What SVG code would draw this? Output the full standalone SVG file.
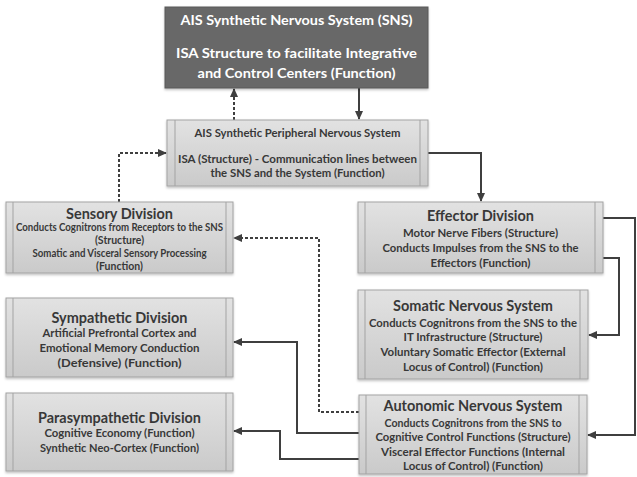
<svg xmlns="http://www.w3.org/2000/svg" width="637" height="477" viewBox="0 0 637 477">
  <defs>
    <linearGradient id="boxFill" x1="0" y1="0" x2="0" y2="1">
      <stop offset="0" stop-color="#e2e2e2"/>
      <stop offset="1" stop-color="#cacaca"/>
    </linearGradient>
    <filter id="soft" x="-5%" y="-5%" width="110%" height="115%">
      <feDropShadow dx="0" dy="1.5" stdDeviation="1.2" flood-color="#000" flood-opacity="0.25"/>
    </filter>
    <marker id="arrow" markerWidth="9" markerHeight="8" refX="8" refY="4" orient="auto" markerUnits="userSpaceOnUse">
      <path d="M0,0 L9,4 L0,8 Z" fill="#3f3f3f"/>
    </marker>
  </defs>
  <style>
    .box { fill: url(#boxFill); stroke: #a3a3a3; stroke-width: 1; filter: url(#soft); }
    .bar { stroke: #a3a3a3; stroke-width: 1; }
    .dark { fill: #676767; stroke: #5a5a5a; stroke-width: 1; filter: url(#soft); }
    text { font-family: Lato, "Liberation Sans", sans-serif; font-weight: bold; text-anchor: middle; dominant-baseline: central; fill: #383838; }
    .t { font-size: 15px; }
    .b { font-size: 10.5px; }
    .w { fill: #ffffff; font-size: 14px; }
    .c { fill: none; stroke: #3f3f3f; stroke-width: 2; marker-end: url(#arrow); }
    .d { stroke-dasharray: 3 2; }
  </style>

  <!-- connectors -->
  <g id="connectors">
    <path class="c d" d="M234,120 V89"/>
    <path class="c" d="M359,88 V119"/>
    <path class="c d" d="M119,202 V153 H166"/>
    <path class="c" d="M428,153 H481 V201"/>
    <path class="c" d="M603,218 H635 V435 H588"/>
    <path class="c" d="M603,258 H619 V335 H589"/>
    <path class="c d" d="M359,412 H319 V238 H234"/>
    <path class="c" d="M359,433 H297 V342 H234"/>
    <path class="c" d="M359,459 H280 V431 H234"/>
  </g>

  <!-- central synthetic nervous system -->
  <g id="sns">
    <rect class="dark" x="165" y="7" width="263" height="81"/>
    <text class="w" x="296.5" y="19" textLength="232" lengthAdjust="spacingAndGlyphs">AIS Synthetic Nervous System (SNS)</text>
    <text class="w" x="296.5" y="52" textLength="241" lengthAdjust="spacingAndGlyphs">ISA Structure to facilitate Integrative</text>
    <text class="w" x="296.5" y="72" textLength="198" lengthAdjust="spacingAndGlyphs">and Control Centers (Function)</text>
  </g>

  <!-- peripheral nervous system -->
  <g id="peripheral">
    <rect class="box" x="167" y="120" width="261" height="66"/>
    <line class="bar" x1="175" y1="120" x2="175" y2="186"/>
    <line class="bar" x1="420" y1="120" x2="420" y2="186"/>
    <text class="b" x="297.5" y="133" textLength="206" lengthAdjust="spacingAndGlyphs">AIS Synthetic Peripheral Nervous System</text>
    <text class="b" x="297.5" y="159" textLength="239" lengthAdjust="spacingAndGlyphs">ISA (Structure) - Communication lines between</text>
    <text class="b" x="297.5" y="173" textLength="174" lengthAdjust="spacingAndGlyphs">the SNS and the System (Function)</text>
  </g>

  <!-- sensory division -->
  <g id="sensory">
    <rect class="box" x="6" y="202" width="227" height="71"/>
    <line class="bar" x1="13" y1="202" x2="13" y2="273"/>
    <line class="bar" x1="226" y1="202" x2="226" y2="273"/>
    <text class="t" x="119.5" y="213" textLength="107" lengthAdjust="spacingAndGlyphs">Sensory Division</text>
    <text class="b" x="119.5" y="227" font-size="9.5" textLength="207" lengthAdjust="spacingAndGlyphs">Conducts Cognitrons from Receptors to the SNS</text>
    <text class="b" x="119.5" y="240" font-size="9.5">(Structure)</text>
    <text class="b" x="119.5" y="253" font-size="9.5" textLength="174" lengthAdjust="spacingAndGlyphs">Somatic and Visceral Sensory Processing</text>
    <text class="b" x="119.5" y="266" font-size="9.5">(Function)</text>
  </g>

  <!-- effector division -->
  <g id="effector">
    <rect class="box" x="358" y="202" width="245" height="71"/>
    <line class="bar" x1="365" y1="202" x2="365" y2="273"/>
    <line class="bar" x1="595" y1="202" x2="595" y2="273"/>
    <text class="t" x="480.5" y="215" textLength="107" lengthAdjust="spacingAndGlyphs">Effector Division</text>
    <text class="b" x="480.5" y="233" textLength="155" lengthAdjust="spacingAndGlyphs">Motor Nerve Fibers (Structure)</text>
    <text class="b" x="480.5" y="248" textLength="196" lengthAdjust="spacingAndGlyphs">Conducts Impulses from the SNS to the</text>
    <text class="b" x="480.5" y="263" textLength="100" lengthAdjust="spacingAndGlyphs">Effectors (Function)</text>
  </g>

  <!-- somatic nervous system -->
  <g id="somatic">
    <rect class="box" x="358" y="290" width="230" height="89"/>
    <line class="bar" x1="365" y1="290" x2="365" y2="379"/>
    <line class="bar" x1="580" y1="290" x2="580" y2="379"/>
    <text class="t" x="473" y="305" textLength="160" lengthAdjust="spacingAndGlyphs">Somatic Nervous System</text>
    <text class="b" x="473" y="323" textLength="208" lengthAdjust="spacingAndGlyphs">Conducts Cognitrons from the SNS to the</text>
    <text class="b" x="473" y="337" textLength="139" lengthAdjust="spacingAndGlyphs">IT Infrastructure (Structure)</text>
    <text class="b" x="473" y="352" textLength="185" lengthAdjust="spacingAndGlyphs">Voluntary Somatic Effector (External</text>
    <text class="b" x="473" y="367" textLength="140" lengthAdjust="spacingAndGlyphs">Locus of Control) (Function)</text>
  </g>

  <!-- sympathetic division -->
  <g id="sympathetic">
    <rect class="box" x="6" y="298" width="227" height="79"/>
    <line class="bar" x1="13" y1="298" x2="13" y2="377"/>
    <line class="bar" x1="226" y1="298" x2="226" y2="377"/>
    <text class="t" x="119.5" y="317" textLength="136" lengthAdjust="spacingAndGlyphs">Sympathetic Division</text>
    <text class="b" x="119.5" y="333" textLength="154" lengthAdjust="spacingAndGlyphs">Artificial Prefrontal Cortex and</text>
    <text class="b" x="119.5" y="348" textLength="160" lengthAdjust="spacingAndGlyphs">Emotional Memory Conduction</text>
    <text class="b" x="119.5" y="363" textLength="124" lengthAdjust="spacingAndGlyphs">(Defensive) (Function)</text>
  </g>

  <!-- parasympathetic division -->
  <g id="parasympathetic">
    <rect class="box" x="6" y="393" width="227" height="78"/>
    <line class="bar" x1="13" y1="393" x2="13" y2="471"/>
    <line class="bar" x1="226" y1="393" x2="226" y2="471"/>
    <text class="t" x="119.5" y="417" textLength="163" lengthAdjust="spacingAndGlyphs">Parasympathetic Division</text>
    <text class="b" x="119.5" y="433" textLength="150" lengthAdjust="spacingAndGlyphs">Cognitive Economy (Function)</text>
    <text class="b" x="119.5" y="448" textLength="159" lengthAdjust="spacingAndGlyphs">Synthetic Neo-Cortex (Function)</text>
  </g>

  <!-- autonomic nervous system -->
  <g id="autonomic">
    <rect class="box" x="359" y="395" width="228" height="79"/>
    <line class="bar" x1="366" y1="395" x2="366" y2="474"/>
    <line class="bar" x1="579" y1="395" x2="579" y2="474"/>
    <text class="t" x="473" y="405" textLength="179" lengthAdjust="spacingAndGlyphs">Autonomic Nervous System</text>
    <text class="b" x="473" y="423" textLength="177" lengthAdjust="spacingAndGlyphs">Conducts Cognitrons from the SNS to</text>
    <text class="b" x="473" y="437" textLength="195" lengthAdjust="spacingAndGlyphs">Cognitive Control Functions (Structure)</text>
    <text class="b" x="473" y="452" textLength="184" lengthAdjust="spacingAndGlyphs">Visceral Effector Functions (Internal</text>
    <text class="b" x="473" y="466" textLength="140" lengthAdjust="spacingAndGlyphs">Locus of Control) (Function)</text>
  </g>
</svg>
